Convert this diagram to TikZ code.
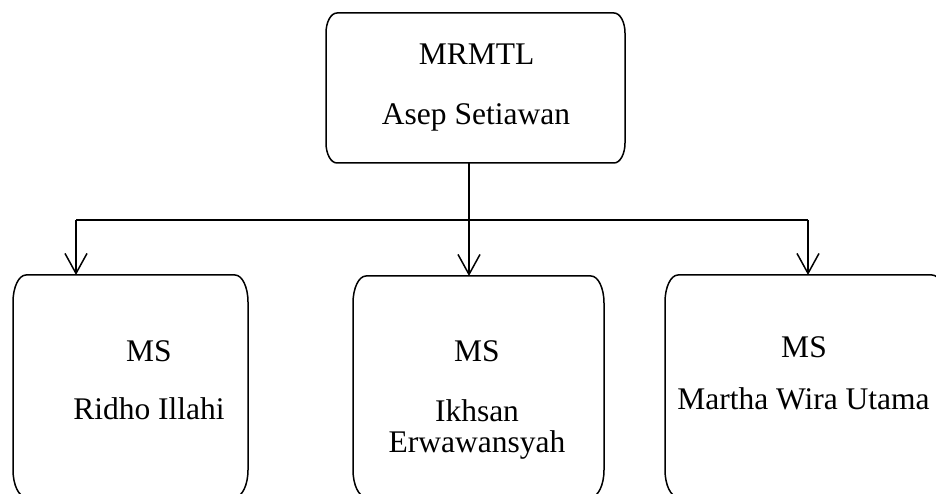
\documentclass[tikz,border=0pt]{standalone}
\usepackage{fontspec}
\setmainfont{Liberation Serif}
\usetikzlibrary{arrows.meta,calc}
\newcommand\ovalbox[3]{%
  \draw[boxline] ([xshift=#2]#1.north west) -- ([xshift=-#2]#1.north east)
    arc[start angle=90,end angle=0,x radius=#2,y radius=#3]
    -- ([yshift=#3]#1.south east)
    arc[start angle=0,end angle=-90,x radius=#2,y radius=#3]
    -- ([xshift=#2]#1.south west)
    arc[start angle=270,end angle=180,x radius=#2,y radius=#3]
    -- ([yshift=-#3]#1.north west)
    arc[start angle=180,end angle=90,x radius=#2,y radius=#3] -- cycle;}
\begin{document}
\begin{tikzpicture}[x=1pt,y=1pt,
  boxline/.style={line width=1.5pt},
  frame/.style={rectangle,draw=none,inner sep=0pt,outer sep=0pt},
  lbl/.style={anchor=base,inner sep=0pt,font=\fontsize{31.5}{31.5}\selectfont},
  conn/.style={line width=1.5pt},
  arr/.style={conn,-{Straight Barb[length=20pt,width=22pt,line width=1.5pt]}}]
\useasboundingbox (0,0) rectangle (936,494);
\clip (0,0) rectangle (936,494);
% boxes
\node[frame,minimum width=299pt,minimum height=150pt] (top) at (475.5,406) {};
\node[frame,minimum width=235pt,minimum height=222pt] (left) at (130.5,108) {};
\node[frame,minimum width=251pt,minimum height=221pt] (mid) at (478.5,107.5) {};
\node[frame,minimum width=280pt,minimum height=222pt] (right) at (805,108) {};
\ovalbox{top}{11pt}{20pt}
\ovalbox{left}{13pt}{27pt}
\ovalbox{mid}{13pt}{27pt}
\ovalbox{right}{13pt}{27pt}
% texts
\node[lbl] (t1) at (476.5,429) {MRMTL};
\node[lbl] (t2) at (476,369) {Asep Setiawan};
\node[lbl] (l1) at (149,132) {MS};
\node[lbl] (l2) at (149,74) {Ridho Illahi};
\node[lbl] (m1) at (477,132) {MS};
\node[lbl] (m2) at (477,72) {Ikhsan};
\node[lbl] (m3) at (477,41) {Erwawansyah};
\node[lbl] (r1) at (804,136) {MS};
\node[lbl] (r2) at (803.5,84) {Martha Wira Utama};
% connectors
\coordinate (bus) at (469,274);
\coordinate (busL) at (76,274);
\coordinate (busR) at (808,274);
\draw[conn] (busL) -- (busR);
\draw[arr] (top.south -| bus) -- (bus |- mid.north);
\draw[arr] (busL) -- (busL |- left.north);
\draw[arr] (busR) -- (busR |- right.north);
\end{tikzpicture}
\end{document}
